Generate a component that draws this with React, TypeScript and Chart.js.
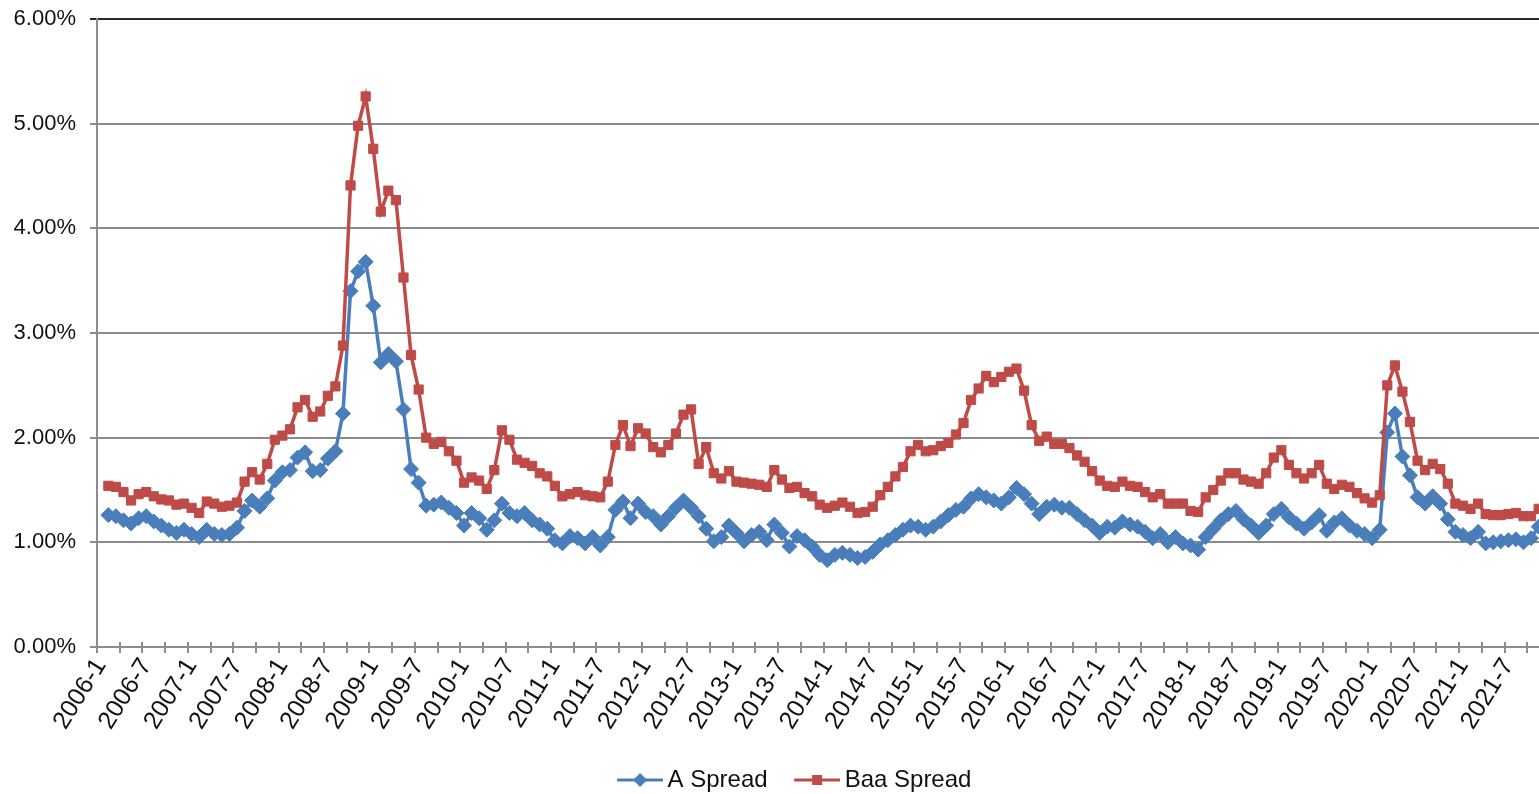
import React, { useEffect, useRef } from 'react';
import { Chart, registerables } from 'chart.js';

Chart.register(...registerables);

// Categories: monthly, 2006-1 .. 2021-12
const years: number[] = [2006, 2007, 2008, 2009, 2010, 2011, 2012, 2013, 2014, 2015, 2016, 2017, 2018, 2019, 2020, 2021];
const monthNumbers: number[] = [1, 2, 3, 4, 5, 6, 7, 8, 9, 10, 11, 12];
const categories: string[] = years.flatMap((y) => monthNumbers.map((m) => `${y}-${m}`));

// Months whose labels are shown on the axis
const labelledMonths: number[] = [1, 7];

// A Spread (%), one row per year
const aSpread: (number | null)[] = [
  null, 1.26, 1.25, 1.21, 1.18, 1.23, 1.25, 1.20, 1.16, 1.12, 1.09, 1.12,
  1.08, 1.05, 1.12, 1.08, 1.07, 1.08, 1.14, 1.30, 1.40, 1.34, 1.42, 1.59,
  1.67, 1.69, 1.81, 1.86, 1.68, 1.69, 1.80, 1.87, 2.23, 3.40, 3.59, 3.68,
  3.26, 2.72, 2.80, 2.73, 2.27, 1.70, 1.57, 1.35, 1.36, 1.38, 1.33, 1.28,
  1.16, 1.28, 1.23, 1.12, 1.21, 1.37, 1.28, 1.25, 1.28, 1.21, 1.17, 1.13,
  1.02, 0.99, 1.06, 1.04, 0.99, 1.05, 0.97, 1.05, 1.31, 1.39, 1.23, 1.37,
  1.29, 1.25, 1.17, 1.25, 1.33, 1.40, 1.33, 1.25, 1.13, 1.01, 1.05, 1.16,
  1.09, 1.01, 1.07, 1.10, 1.02, 1.17, 1.09, 0.96, 1.06, 1.02, 0.96, 0.88,
  0.83, 0.88, 0.90, 0.88, 0.85, 0.86, 0.91, 0.98, 1.02, 1.07, 1.12, 1.16,
  1.15, 1.12, 1.15, 1.20, 1.26, 1.31, 1.34, 1.42, 1.46, 1.43, 1.40, 1.37,
  1.43, 1.52, 1.46, 1.37, 1.27, 1.34, 1.36, 1.33, 1.33, 1.27, 1.21, 1.16,
  1.09, 1.15, 1.14, 1.20, 1.17, 1.15, 1.10, 1.04, 1.08, 1.00, 1.05, 0.99,
  0.97, 0.93, 1.05, 1.13, 1.21, 1.27, 1.30, 1.22, 1.16, 1.09, 1.16, 1.27,
  1.32, 1.24, 1.18, 1.13, 1.19, 1.26, 1.11, 1.19, 1.23, 1.16, 1.11, 1.08,
  1.04, 1.12, 2.05, 2.23, 1.82, 1.64, 1.43, 1.37, 1.44, 1.37, 1.22, 1.10,
  1.07, 1.04, 1.10, 0.99, 1.00, 1.01, 1.02, 1.03, 1.00, 1.04, 1.15, 1.22,
];

// Baa Spread (%), one row per year
const baaSpread: (number | null)[] = [
  null, 1.54, 1.53, 1.48, 1.40, 1.46, 1.48, 1.44, 1.41, 1.40, 1.36, 1.37,
  1.33, 1.28, 1.39, 1.37, 1.34, 1.35, 1.38, 1.58, 1.67, 1.60, 1.75, 1.98,
  2.02, 2.08, 2.29, 2.36, 2.20, 2.25, 2.40, 2.49, 2.88, 4.41, 4.98, 5.26,
  4.76, 4.16, 4.36, 4.27, 3.53, 2.79, 2.46, 2.00, 1.94, 1.96, 1.87, 1.78,
  1.57, 1.62, 1.59, 1.51, 1.69, 2.07, 1.98, 1.79, 1.76, 1.73, 1.66, 1.63,
  1.54, 1.44, 1.46, 1.48, 1.45, 1.44, 1.43, 1.58, 1.93, 2.12, 1.92, 2.09,
  2.04, 1.91, 1.86, 1.93, 2.04, 2.22, 2.27, 1.75, 1.91, 1.66, 1.61, 1.68,
  1.58, 1.57, 1.56, 1.55, 1.53, 1.69, 1.60, 1.52, 1.53, 1.47, 1.44, 1.36,
  1.33, 1.35, 1.38, 1.34, 1.28, 1.29, 1.34, 1.45, 1.53, 1.63, 1.72, 1.87,
  1.93, 1.87, 1.88, 1.92, 1.95, 2.03, 2.14, 2.36, 2.47, 2.59, 2.53, 2.58,
  2.63, 2.66, 2.45, 2.12, 1.97, 2.01, 1.94, 1.94, 1.90, 1.83, 1.77, 1.68,
  1.59, 1.54, 1.53, 1.58, 1.54, 1.53, 1.48, 1.43, 1.46, 1.37, 1.37, 1.37,
  1.30, 1.29, 1.43, 1.50, 1.59, 1.66, 1.66, 1.60, 1.58, 1.56, 1.66, 1.81,
  1.88, 1.74, 1.66, 1.61, 1.66, 1.74, 1.56, 1.51, 1.55, 1.53, 1.47, 1.42,
  1.38, 1.45, 2.50, 2.69, 2.44, 2.15, 1.78, 1.69, 1.75, 1.70, 1.56, 1.37,
  1.35, 1.32, 1.37, 1.27, 1.26, 1.26, 1.27, 1.28, 1.25, 1.25, 1.32, 1.33,
];

const BLUE = '#4a7ebb';
const RED = '#be4b48';
const GRID = '#8c8c8c';
const TOP_LINE = '#2a2a2a';
const TEXT = '#111111';
const FONT = "'Liberation Sans', Arial, sans-serif";

const CANVAS_W = 1580;
const CANVAS_H = 802;

function makeLegendIcon(color: string, shape: 'diamond' | 'square'): HTMLCanvasElement {
  const c = document.createElement('canvas');
  c.width = 70;
  c.height = 18;
  const g = c.getContext('2d')!;
  g.strokeStyle = color;
  g.lineWidth = 3;
  g.beginPath();
  g.moveTo(24, 9);
  g.lineTo(70, 9);
  g.stroke();
  g.fillStyle = color;
  const cx = 47;
  if (shape === 'diamond') {
    g.beginPath();
    g.moveTo(cx - 7, 9);
    g.lineTo(cx, 2);
    g.lineTo(cx + 7, 9);
    g.lineTo(cx, 16);
    g.closePath();
    g.fill();
  } else {
    g.fillRect(cx - 5, 4, 10, 10);
  }
  return c;
}

const tickCross = {
  id: 'tickCross',
  afterLayout(chart: any) {
    // nudge the legend row to sit where the reference places it
    if (chart.legend) {
      chart.legend.left += 11;
      chart.legend.right += 11;
    }
  },
  afterDraw(chart: any) {
    const xs = chart.scales.x;
    const ctx = chart.ctx;
    const n = chart.data.labels.length;
    const step = (xs.right - xs.left) / n;
    ctx.save();
    ctx.strokeStyle = GRID;
    ctx.lineWidth = 2;
    for (let k = 0; k <= n; k += 3) {
      const x = Math.round(xs.left + k * step);
      ctx.beginPath();
      ctx.moveTo(x, xs.top - 5);
      ctx.lineTo(x, xs.top + 6);
      ctx.stroke();
    }
    ctx.restore();
  },
};

export default function App() {
  const ref = useRef<HTMLCanvasElement | null>(null);

  useEffect(() => {
    if (!ref.current) return;
    const iconA = makeLegendIcon(BLUE, 'diamond');
    const iconB = makeLegendIcon(RED, 'square');

    const chart = new Chart(ref.current, {
      type: 'line',
      data: {
        labels: categories,
        datasets: [
          {
            label: 'A Spread',
            data: aSpread,
            borderColor: BLUE,
            backgroundColor: BLUE,
            borderWidth: 3.5,
            pointStyle: 'rectRot',
            pointRadius: 7.5,
            pointBorderWidth: 1,
            pointBorderColor: BLUE,
            pointBackgroundColor: BLUE,
            tension: 0,
            order: 1,
          },
          {
            label: 'Baa Spread',
            data: baaSpread,
            borderColor: RED,
            backgroundColor: RED,
            borderWidth: 3.5,
            pointStyle: 'rect',
            pointRadius: 6.5,
            pointBorderWidth: 1,
            pointBorderColor: RED,
            pointBackgroundColor: RED,
            tension: 0,
            order: 0,
          },
        ],
      },
      options: {
        responsive: false,
        animation: false,
        devicePixelRatio: 1,
        layout: { padding: { left: 0, right: 30, top: 19, bottom: 0 } },
        plugins: {
          tooltip: { enabled: false },
          legend: {
            position: 'bottom',
            align: 'center',
            labels: {
              usePointStyle: true,
              pointStyleWidth: 55,
              padding: 10,
              color: TEXT,
              font: { family: FONT, size: 24 },
              generateLabels: (c: any) => [
                {
                  text: c.data.datasets[0].label,
                  pointStyle: iconA,
                  fillStyle: BLUE,
                  strokeStyle: BLUE,
                  lineWidth: 0,
                  hidden: false,
                  datasetIndex: 0,
                  fontColor: TEXT,
                },
                {
                  text: c.data.datasets[1].label,
                  pointStyle: iconB,
                  fillStyle: RED,
                  strokeStyle: RED,
                  lineWidth: 0,
                  hidden: false,
                  datasetIndex: 1,
                  fontColor: TEXT,
                },
              ],
            },
          },
        },
        scales: {
          x: {
            type: 'category',
            offset: true,
            grid: { display: false, drawTicks: false },
            border: { display: true, color: GRID, width: 2 },
            ticks: {
              autoSkip: false,
              minRotation: 58,
              maxRotation: 58,
              padding: 6,
              color: TEXT,
              font: { family: FONT, size: 25 },
              callback: (_v: any, i: number) => {
                const lab = categories[i];
                const m = Number(lab.split('-')[1]);
                return labelledMonths.includes(m) ? lab : '';
              },
            },
            afterFit: (s: any) => {
              s.height = 111;
            },
          },
          y: {
            min: 0,
            max: 6,
            ticks: {
              stepSize: 1,
              padding: 14,
              color: TEXT,
              font: { family: FONT, size: 22 },
              callback: (v: any) => Number(v).toFixed(2) + '%',
            },
            grid: {
              color: (ctx: any) => (ctx.tick && ctx.tick.value === 6 ? TOP_LINE : GRID),
              lineWidth: 2,
              tickLength: 7,
            },
            border: { display: true, color: GRID, width: 2 },
            afterFit: (s: any) => {
              s.width = 97;
              s.paddingTop = 0;
              s.paddingBottom = 0;
            },
          },
        },
      },
      plugins: [tickCross],
    } as any);

    return () => chart.destroy();
  }, []);

  return (
    <div
      style={{
        position: 'fixed',
        left: 0,
        top: 0,
        width: 1539,
        height: 794,
        overflow: 'hidden',
        background: '#ffffff',
      }}
    >
      <canvas
        ref={ref}
        width={CANVAS_W}
        height={CANVAS_H}
        style={{ display: 'block', width: CANVAS_W, height: CANVAS_H }}
      />
    </div>
  );
}
